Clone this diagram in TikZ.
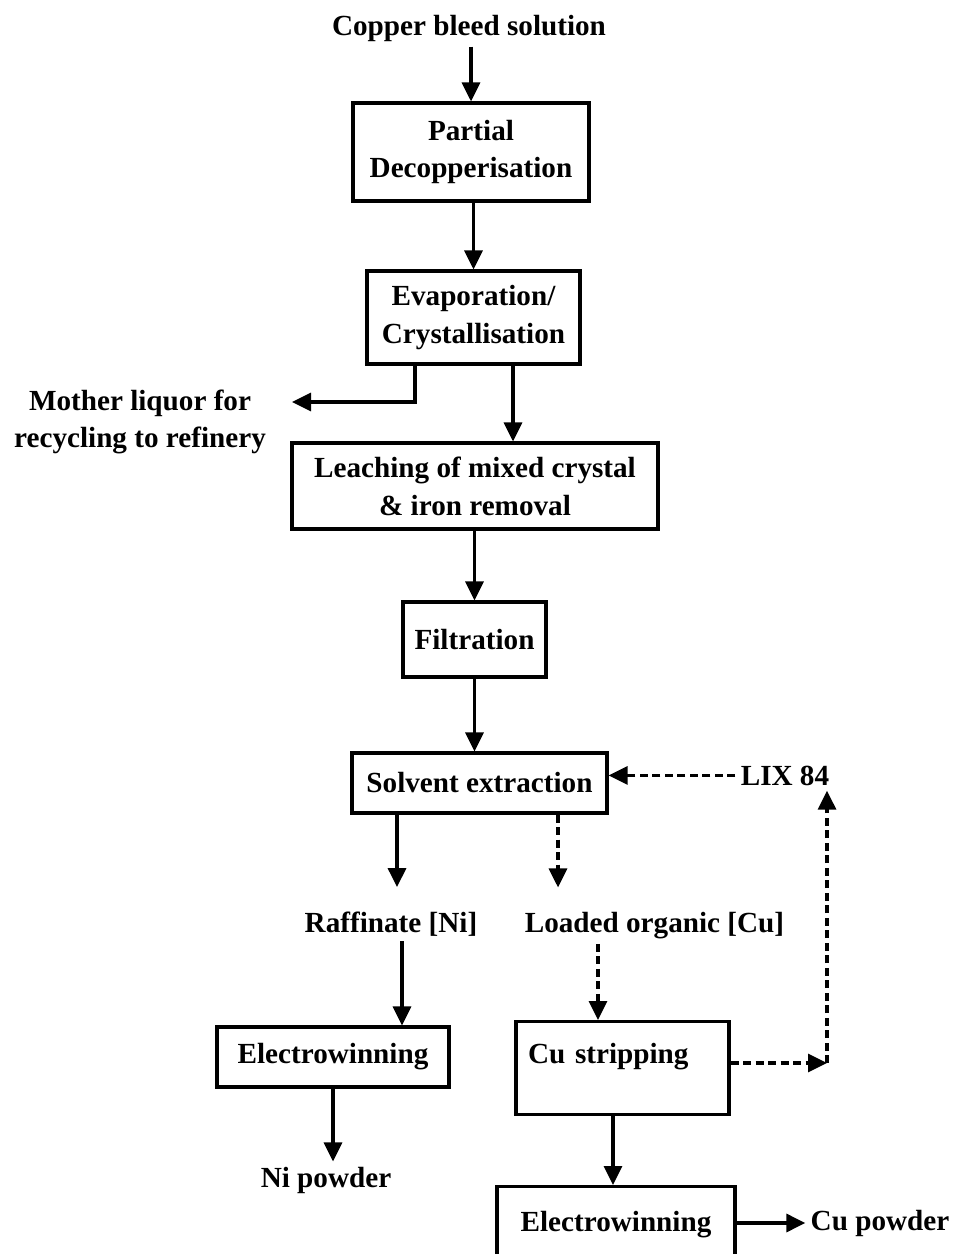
\documentclass[tikz,border=0pt]{standalone}
\usepackage{fontspec}
\setmainfont{Liberation Serif}
\usepackage{tikz}
\usetikzlibrary{arrows.meta, positioning, calc}
\tikzstyle{arrow} = [line width=1.8pt,-{Triangle[length=3.8mm,width=3.6mm]}]
\tikzstyle{dasharrow} = [arrow, dash pattern=on 1.6mm off 0.9mm]

\begin{document}
\begin{tikzpicture}[
    font=\fontsize{16.6}{21.5}\selectfont\bfseries,
    box/.style={rectangle, draw, line width=1.8pt, align=center, inner sep=2pt, fill=white},
    tagbox/.style={rectangle, draw, line width=1.8pt, inner xsep=0.24cm, inner ysep=0.3cm},
    txt/.style={align=center, inner sep=0.1cm}
]
    \useasboundingbox (0,0) rectangle (19.1,-25.08);
    \clip (0,0) rectangle (19.1,-25.08);

    \node[txt, anchor=base] (feed) at (9.38,-0.70) {Copper bleed solution};
    \node[box, minimum width=4.72cm, minimum height=1.96cm] (decop) at (9.42,-3.04) {Partial\\Decopperisation};
    \node[box, minimum width=4.26cm, minimum height=1.86cm] (evap) at (9.47,-6.35) {Evaporation/\\Crystallisation};
    \node[txt] (mother) at (2.8,-8.44) {Mother liquor for\\recycling to refinery};
    \node[box, minimum width=7.32cm, minimum height=1.72cm] (leach) at (9.5,-9.72) {Leaching of mixed crystal\\\& iron removal};
    \node[box, minimum width=2.86cm, minimum height=1.5cm] (filt) at (9.49,-12.79) {Filtration};
    \node[box, minimum width=5.1cm, minimum height=1.2cm] (solv) at (9.59,-15.66) {Solvent extraction};
    \node[txt, anchor=base] (lix) at (15.7,-15.7) {LIX 84};
    \node[txt, anchor=base] (raff) at (7.82,-18.64) {Raffinate [Ni]};
    \node[txt, anchor=base] (loaded) at (13.09,-18.64) {Loaded organic [Cu]};
    \node[box, minimum width=4.64cm, minimum height=1.2cm] (ewni) at (6.66,-21.14) {Electrowinning};
    \node[txt, anchor=base] (nipow) at (6.52,-23.74) {Ni powder};
    \node[tagbox, anchor=north, text width=3.78cm, align=left, text height=0.54cm, text depth=0.72cm] (strip) at (12.45,-20.4) {Cu stripping};
    \node[tagbox, anchor=north, minimum width=4.76cm, align=center, text height=0.6cm, text depth=1.2cm] (ewcu) at (12.32,-23.7) {Electrowinning};
    \node[txt, anchor=base] (cupow) at (17.6,-24.6) {Cu powder};

    \coordinate (split) at (8.3,-8.04);
    \coordinate (mlq) at (5.84,-8.04);
    \coordinate (loop) at (16.54,-21.26);

    \draw[arrow] (feed.south -| decop.north) -- (decop.north);
    \draw[arrow] (decop.south -| evap.north) -- (evap.north);
    \draw[arrow] (evap.south -| split) -- (split) -- (mlq);
    \draw[arrow] ([xshift=0.79cm]evap.south) -- ([xshift=0.79cm]evap.south |- leach.north);
    \draw[arrow] (leach.south -| filt.north) -- (filt.north);
    \draw[arrow] (filt.south) -- (filt.south |- solv.north);
    \draw[dasharrow] (lix.west) -- (lix.west -| solv.east);
    \draw[arrow, shorten >=0.38cm] ([xshift=-1.65cm]solv.south) -- ([xshift=-1.65cm]solv.south |- raff.north);
    \draw[dasharrow, shorten >=0.38cm] ([xshift=1.57cm]solv.south) -- ([xshift=1.57cm]solv.south |- loaded.north);
    \draw[arrow] ([xshift=0.22cm]raff.south) -- ([xshift=0.22cm]raff.south |- ewni.north);
    \draw[dasharrow] ([xshift=-1.13cm]loaded.south) -- ([xshift=-1.13cm]loaded.south |- strip.north);
    \draw[arrow] (ewni.south) -- (ewni.south |- nipow.north);
    \draw[dasharrow] (strip.east |- loop) -- (loop);
    \draw[dasharrow] (loop) -- (loop |- lix.south);
    \draw[arrow] ([xshift=-0.19cm]strip.south) -- ([xshift=-0.19cm]strip.south |- ewcu.north);
    \draw[arrow] (ewcu.east |- cupow) -- (cupow.west);
\end{tikzpicture}
\end{document}
